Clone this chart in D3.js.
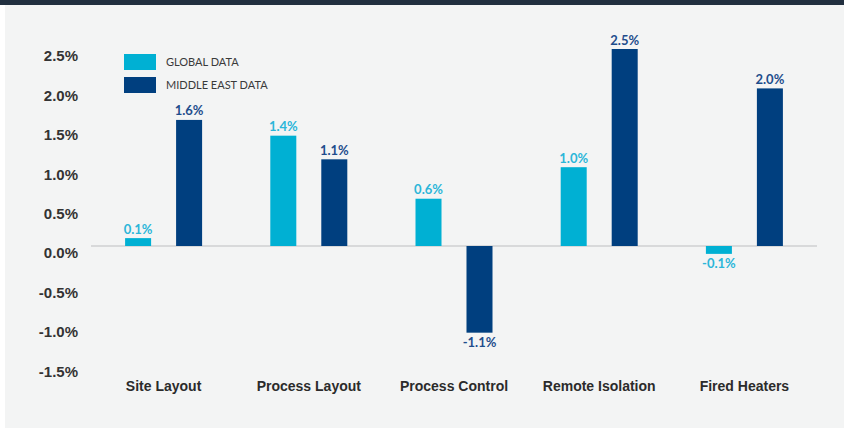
<!DOCTYPE html>
<html lang="en">
<head>
<meta charset="UTF-8">
<script src="https://d3js.org/d3.v7.min.js"></script>
<style>
  body { margin: 0; background: #fff; }
  svg { display: block; font-family: Lato, "Open Sans", sans-serif; }
</style>
</head>
<body>
<script>
  // chart data
  let categories = ["Site Layout", "Process Layout", "Process Control", "Remote Isolation", "Fired Heaters"];
  let seriesNames = ["GLOBAL DATA", "MIDDLE EAST DATA"];
  let globalData = [0.1, 1.4, 0.6, 1.0, -0.1];
  let middleEastData = [1.6, 1.1, -1.1, 2.5, 2.0];
  let yTicks = [2.5, 2.0, 1.5, 1.0, 0.5, 0.0, -0.5, -1.0, -1.5];

  let colors = ["#00b0d3", "#003f7f"];
  let labelColors = ["#2bb6d9", "#1e4d8c"];
  let width = 844, height = 429;

  // plain hyphen instead of d3's unicode minus
  let pct = d3.formatLocale({ decimal: ".", thousands: ",", grouping: [3], currency: ["", ""], minus: "-" }).format(".1f");

  let svg = d3.select("body").append("svg")
    .attr("width", width)
    .attr("height", height);

  // background panel + top band
  svg.append("rect").attr("x", 5).attr("y", 0).attr("width", width - 5).attr("height", 428).attr("fill", "#f3f4f4");
  svg.append("rect").attr("x", 0).attr("y", 0).attr("width", width).attr("height", 5).attr("fill", "#212f3f");

  let y = d3.scaleLinear()
    .domain([-1.5, 2.5])
    .range([364.2, 49]);

  let x0 = d3.scaleBand()
    .domain(categories)
    .range([91, 817])
    .padding(0);

  let x1 = d3.scaleBand()
    .domain(seriesNames)
    .range([0, 77])
    .paddingInner(0.49);

  // y axis labels (no line)
  let yAxis = d3.axisLeft(y)
    .tickValues(yTicks)
    .tickSize(0)
    .tickFormat(d => pct(d) + "%");

  let yg = svg.append("g")
    .attr("transform", "translate(78,0)")
    .call(yAxis);
  yg.select(".domain").remove();
  yg.selectAll("text")
    .attr("x", 0)
    .attr("dy", "0.32em")
    .attr("transform", "translate(0,7)")
    .attr("fill", "#333")
    .style("font-size", "15px")
    .style("font-weight", "700");

  // zero line
  svg.append("line")
    .attr("x1", 91).attr("x2", 817)
    .attr("y1", y(0)).attr("y2", y(0))
    .attr("stroke", "#cfd1d2")
    .attr("stroke-width", 1.5);

  let rows = categories.map((c, i) => ({ cat: c, values: [globalData[i], middleEastData[i]] }));

  let groups = svg.selectAll(".grp")
    .data(rows)
    .enter().append("g")
    .attr("class", "grp")
    .attr("transform", d => "translate(" + (x0(d.cat) + x0.bandwidth() / 2 - 38.5) + ",0)");

  let cells = groups.selectAll("g")
    .data(d => d.values.map((v, j) => ({ key: seriesNames[j], value: v, j: j })))
    .enter().append("g");

  cells.append("rect")
    .attr("x", d => x1(d.key))
    .attr("width", x1.bandwidth())
    .attr("y", d => y(Math.max(0, d.value)))
    .attr("height", d => Math.abs(y(d.value) - y(0)))
    .attr("fill", d => colors[d.j]);

  cells.append("text")
    .attr("x", d => x1(d.key) + x1.bandwidth() / 2)
    .attr("y", d => d.value >= 0 ? y(d.value) - 9 : y(d.value) + 10)
    .attr("dy", "0.35em")
    .attr("text-anchor", "middle")
    .attr("fill", d => labelColors[d.j])
    .style("font-size", "13px")
    .style("font-weight", "700")
    .text(d => pct(d.value) + "%");

  // category labels
  let xAxis = d3.axisBottom(x0).tickSize(0);
  let xg = svg.append("g")
    .attr("transform", "translate(0,386)")
    .call(xAxis);
  xg.select(".domain").remove();
  xg.selectAll("text")
    .attr("y", 0)
    .attr("dy", "0.35em")
    .attr("fill", "#2b2b2b")
    .style("font-size", "14px")
    .style("font-weight", "700");

  // legend
  let legend = svg.selectAll(".leg")
    .data(seriesNames)
    .enter().append("g")
    .attr("class", "leg")
    .attr("transform", (d, i) => "translate(124," + (54 + i * 23) + ")");
  legend.append("rect")
    .attr("width", 32).attr("height", 16)
    .attr("fill", (d, i) => colors[i]);
  legend.append("text")
    .attr("x", 42).attr("y", 8)
    .attr("dy", "0.35em")
    .attr("fill", "#3a3a3a")
    .style("font-size", "11px")
    .text(d => d);
</script>
</body>
</html>
